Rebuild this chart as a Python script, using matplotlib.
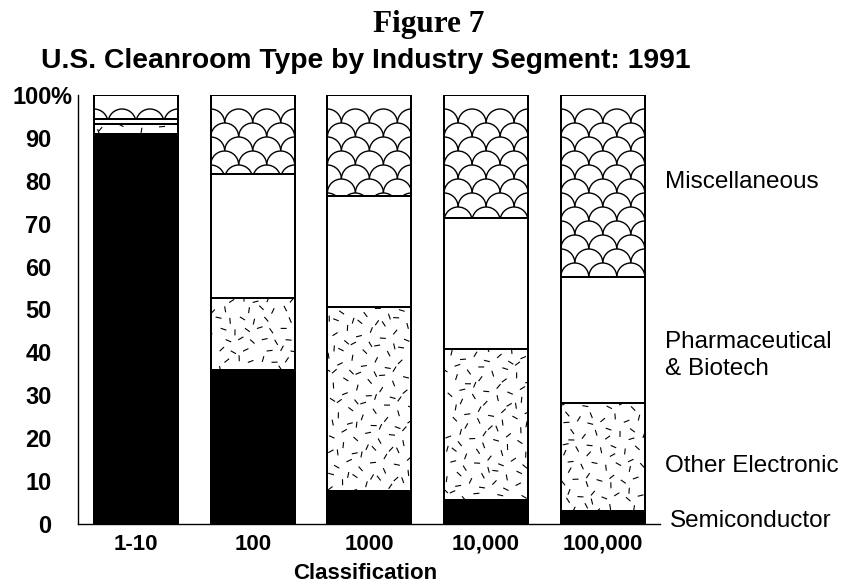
import numpy as np
import matplotlib.pyplot as plt
from matplotlib.patches import Arc
from matplotlib.collections import LineCollection

# data (percent of cleanrooms per class)
categories = ['1-10', '100', '1000', '10,000', '100,000']
semiconductor = [91.0, 36.0, 7.7, 5.6, 3.0]
other_electronic = [2.2, 16.6, 42.9, 35.2, 25.2]
pharma_biotech = [1.2, 29.1, 25.9, 30.5, 29.4]
miscellaneous = [5.6, 18.3, 23.5, 28.7, 42.4]
y_ticks = [0, 10, 20, 30, 40, 50, 60, 70, 80, 90, 100]

W, H, DPI = 849, 586, 100
fig = plt.figure(figsize=(W / DPI, H / DPI), dpi=DPI)
ax_l, ax_r, ax_t, ax_b = 78, 660, 95, 524
ax = fig.add_axes([ax_l / W, 1 - ax_b / H, (ax_r - ax_l) / W, (ax_b - ax_t) / H])

x = np.arange(len(categories))
xlim = (-0.497, 4.49)
ax.set_xlim(*xlim)
ax.set_ylim(0, 100)
bar_w = 0.72

# pixels per data unit, keeps the textures square on screen
sx = (ax_r - ax_l) / (xlim[1] - xlim[0])
sy = (ax_b - ax_t) / 100.0

series = [semiconductor, other_electronic, pharma_biotech, miscellaneous]
faces = ['black', 'white', 'white', 'white']
bottom = np.zeros(len(categories))
bars_by_series = []
for vals, fc in zip(series, faces):
    bars = ax.bar(x, vals, bar_w, bottom=bottom, color=fc, edgecolor='black',
                  linewidth=1.4, zorder=2)
    bars_by_series.append((bars, bottom.copy(), np.array(vals)))
    bottom = bottom + np.array(vals)

# --- speckle texture for Other Electronic ---
a1, a2, a3 = 0.7548776662, 0.5698402910, 0.4142135624
bars, bot, vals = bars_by_series[1]
k = 0
for i, b in enumerate(bars):
    w_px = bar_w * sx
    h_px = vals[i] * sy
    n = int(w_px * h_px / 135)
    segs = []
    for j in range(n):
        k += 1
        u = (0.3 + k * a1) % 1
        v = (0.6 + k * a2) % 1
        ang = ((0.2 + k * a3) % 1) * np.pi
        cx = x[i] - bar_w / 2 + u * bar_w
        cy = bot[i] + v * vals[i]
        dx = 3.0 * np.cos(ang) / sx
        dy = 3.0 * np.sin(ang) / sy
        segs.append([(cx - dx, cy - dy), (cx + dx, cy + dy)])
    lc = LineCollection(segs, colors='black', linewidths=0.8, zorder=3)
    ax.add_collection(lc)
    lc.set_clip_path(b)

# --- fish scale texture for Miscellaneous ---
bars, bot, vals = bars_by_series[3]
r_px, row_px = 14.0, 14.0
for i, b in enumerate(bars):
    x0 = x[i] - bar_w / 2
    x1 = x[i] + bar_w / 2
    row = 0
    yy = 100 - 2 * row_px / sy
    while yy > bot[i] - r_px / sy:
        shift = (row % 2) * r_px
        cx = x0 - 2 * r_px / sx + shift / sx
        while cx < x1 + r_px / sx:
            arc = Arc((cx, yy), 2 * r_px / sx, 2 * r_px / sy, theta1=0, theta2=180,
                      color='black', linewidth=1.0, zorder=3)
            ax.add_patch(arc)
            arc.set_clip_path(b)
            cx += 2 * r_px / sx
        yy -= row_px / sy
        row += 1

# bar outlines on top of the textures
for bars, _, _ in bars_by_series:
    for b in bars:
        ax.add_patch(plt.Rectangle(b.get_xy(), b.get_width(), b.get_height(),
                                   fill=False, edgecolor='black', linewidth=1.4, zorder=4))

for side in ['top', 'right']:
    ax.spines[side].set_visible(False)
ax.spines['left'].set_linewidth(1.0)
ax.spines['bottom'].set_linewidth(1.0)

ax.set_yticks(y_ticks)
ax.set_yticklabels([str(t) for t in y_ticks], fontsize=17, fontweight='bold',
                   family='Liberation Sans')
ax.tick_params(axis='y', length=0, pad=19)
ax.text(xlim[0] - 27.5 / sx, 100, '%', ha='left', va='center_baseline', fontsize=17,
        fontweight='bold', family='Liberation Sans', clip_on=False)
ax.set_xticks(x)
ax.set_xticklabels(categories, fontsize=16, fontweight='bold', family='Liberation Sans')
ax.tick_params(axis='x', length=0, pad=7)
ax.set_xlabel('Classification', fontsize=16, fontweight='bold',
              family='Liberation Sans', va='baseline')
ax.xaxis.set_label_coords((365 - ax_l) / (ax_r - ax_l), (ax_b - 579) / (ax_b - ax_t))

fig.text(429 / W, 1 - 32 / H, 'Figure 7', ha='center', va='baseline', fontsize=22.5,
         fontweight='bold', family='Liberation Serif')
fig.text(366 / W, 1 - 68 / H, 'U.S. Cleanroom Type by Industry Segment: 1991',
         ha='center', va='baseline', fontsize=20.3, fontweight='bold',
         family='Liberation Sans')

side_labels = [('Miscellaneous', 665, 188), ('Pharmaceutical', 665, 348),
               ('& Biotech', 665, 375), ('Other Electronic', 665, 472),
               ('Semiconductor', 670, 527)]
for txt, xp, yp in side_labels:
    fig.text(xp / W, 1 - yp / H, txt, ha='left', va='baseline', fontsize=17.5,
             family='Liberation Sans')

fig.savefig('out.png', dpi=DPI)
